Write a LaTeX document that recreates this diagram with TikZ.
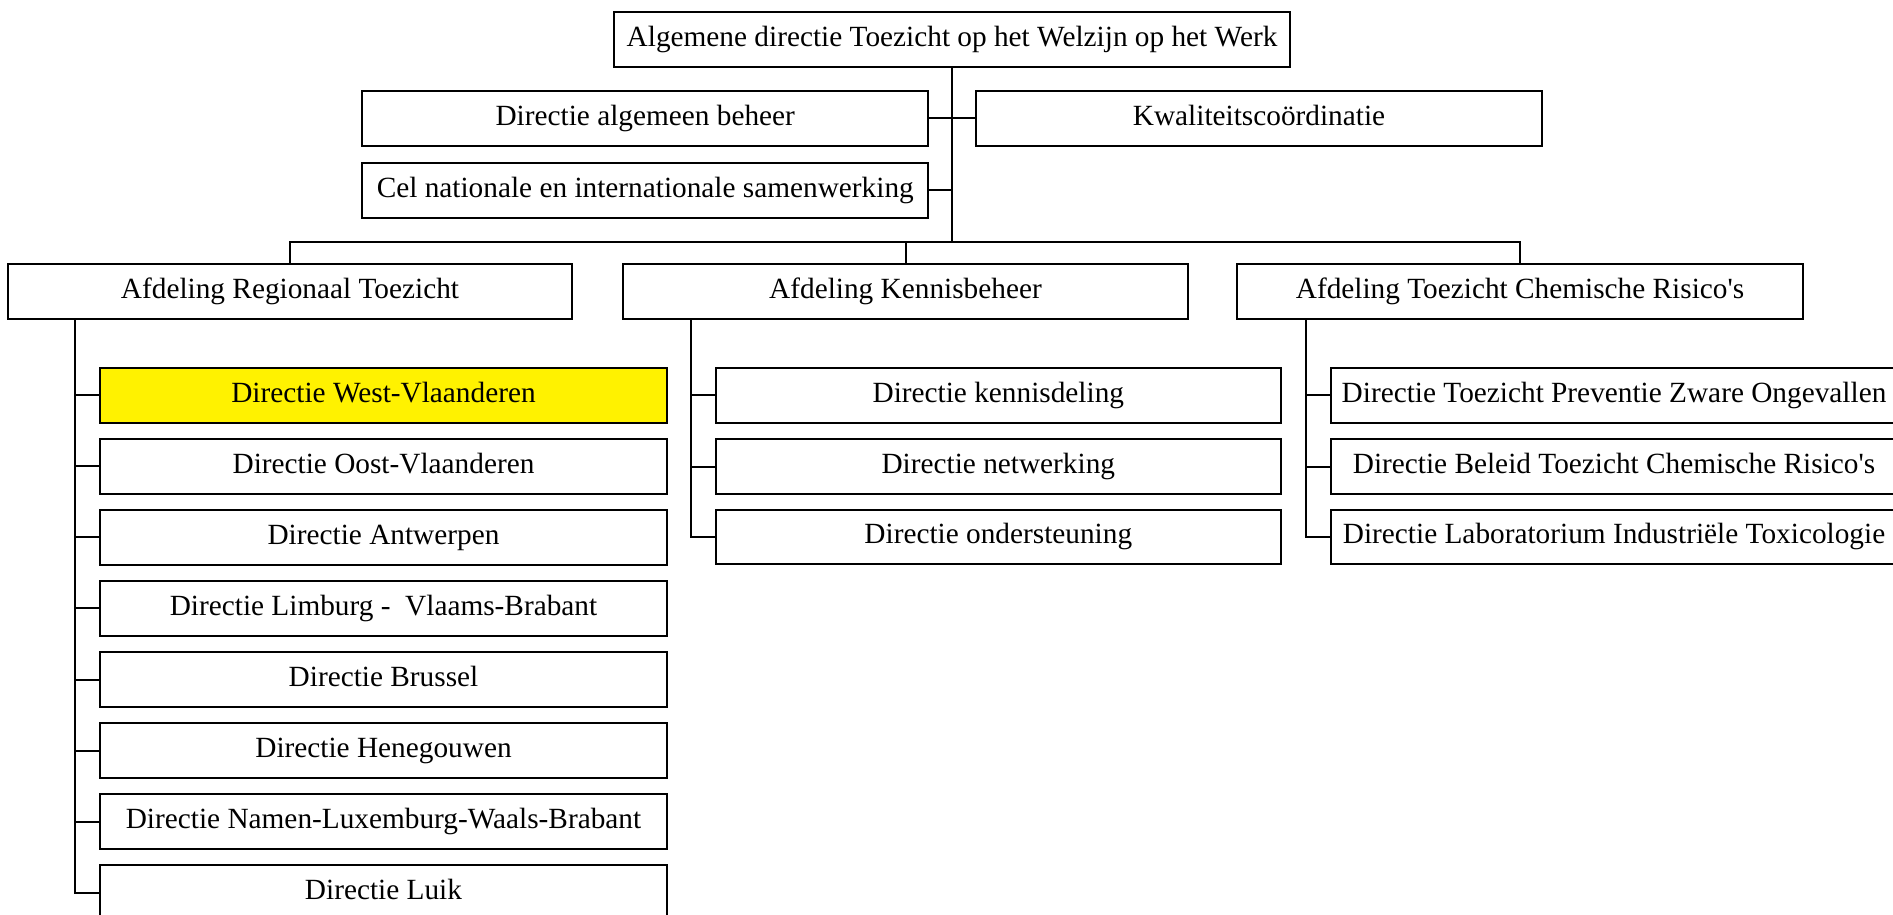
\documentclass[tikz,border=0pt]{standalone}
\usepackage{fontspec}
\setmainfont[Ligatures=TeXOff]{Liberation Serif}
\usetikzlibrary{calc}
\begin{document}
\begin{tikzpicture}[x=1pt,y=-1pt,
  orgbox/.style={draw=black,line width=2pt,fill=white,rectangle,inner sep=0pt,
    minimum height=55pt,text height=20pt,text depth=6.5pt,
    font=\fontsize{29.3}{34}\selectfont,anchor=center},
  w566/.style={minimum width=566pt},
  hilite/.style={fill=yellow},
  conn/.style={draw=black,line width=2pt}]
\useasboundingbox (0,0) rectangle (1893,915);
\clip (0,0) rectangle (1893,915);
\fill[white] (0,0) rectangle (1893,915);

% top level
\node[orgbox,minimum width=676pt] (top) at (952,39.5) {Algemene directie Toezicht op het Welzijn op het Werk};
\node[orgbox,w566] (alg) at (645.25,118.5) {Directie algemeen beheer};
\node[orgbox,w566] (kwal) at (1259,118.5) {Kwaliteitscoördinatie};
\node[orgbox,w566,minimum height=54.5pt] (cel) at (645.25,190.25) {Cel nationale en internationale samenwerking};

% departments
\node[orgbox,minimum width=564pt] (reg) at (290,291.75) {Afdeling Regionaal Toezicht};
\node[orgbox,minimum width=565pt] (ken) at (905.5,291.75) {Afdeling Kennisbeheer};
\node[orgbox,w566] (chem) at (1520,291.75) {Afdeling Toezicht Chemische Risico's};

% regional children
\node[orgbox,minimum width=567pt,minimum height=54.5pt,hilite] (r1) at (383.5,395.25) {Directie West-Vlaanderen};
\node[orgbox,minimum width=567pt,minimum height=54.5pt] (r2) at (383.5,466.3) {Directie Oost-Vlaanderen};
\node[orgbox,minimum width=567pt,minimum height=54.5pt] (r3) at (383.5,537.4) {Directie Antwerpen};
\node[orgbox,minimum width=567pt,minimum height=54.5pt] (r4) at (383.5,608.4) {Directie Limburg -\ \ Vlaams-Brabant};
\node[orgbox,minimum width=567pt,minimum height=54.5pt] (r5) at (383.5,679.5) {Directie Brussel};
\node[orgbox,minimum width=567pt,minimum height=54.5pt] (r6) at (383.5,750.5) {Directie Henegouwen};
\node[orgbox,minimum width=567pt,minimum height=54.5pt] (r7) at (383.5,821.6) {Directie Namen-Luxemburg-Waals-Brabant};
\node[orgbox,minimum width=567pt,minimum height=54.5pt] (r8) at (383.5,892.7) {Directie Luik};

% kennis children
\node[orgbox,minimum width=565pt,minimum height=54.5pt] (k1) at (998.3,395.3) {Directie kennisdeling};
\node[orgbox,minimum width=565pt,minimum height=54.5pt] (k2) at (998.3,466.5) {Directie netwerking};
\node[orgbox,minimum width=565pt,minimum height=54.5pt] (k3) at (998.3,537.2) {Directie ondersteuning};

% chem children
\node[orgbox,w566,minimum height=54.5pt] (c1) at (1614,395.3) {Directie Toezicht Preventie Zware Ongevallen};
\node[orgbox,w566,minimum height=54.5pt] (c2) at (1614,466.5) {Directie Beleid Toezicht Chemische Risico's};
\node[orgbox,w566,minimum height=54.5pt] (c3) at (1614,537.2) {Directie Laboratorium Industriële Toxicologie};

% connectors top part
\coordinate (bus) at (952,241.5);
\draw[conn] (alg.east) -- (kwal.west);
\draw[conn] (top.south) -- (top.south |- cel.east) -- (cel.east);
\draw[conn] (top.south |- cel.east) -- (bus);
\draw[conn] (reg.north) -- (reg.north |- bus) -- (chem.north |- bus) -- (chem.north);
\draw[conn] (ken.north) -- (ken.north |- bus);

% regional branch
\coordinate (regv) at ($(reg.south west)+(68,0)$);
\draw[conn] (regv) |- (r8.west);
\foreach \n in {r1,r2,r3,r4,r5,r6,r7}{\draw[conn] (regv |- \n.west) -- (\n.west);}

% kennis branch
\coordinate (kenv) at ($(ken.south west)+(68.5,0)$);
\draw[conn] (kenv) |- (k3.west);
\foreach \n in {k1,k2}{\draw[conn] (kenv |- \n.west) -- (\n.west);}

% chem branch
\coordinate (chemv) at ($(chem.south west)+(70,0)$);
\draw[conn] (chemv) |- (c3.west);
\foreach \n in {c1,c2}{\draw[conn] (chemv |- \n.west) -- (\n.west);}
\end{tikzpicture}
\end{document}
